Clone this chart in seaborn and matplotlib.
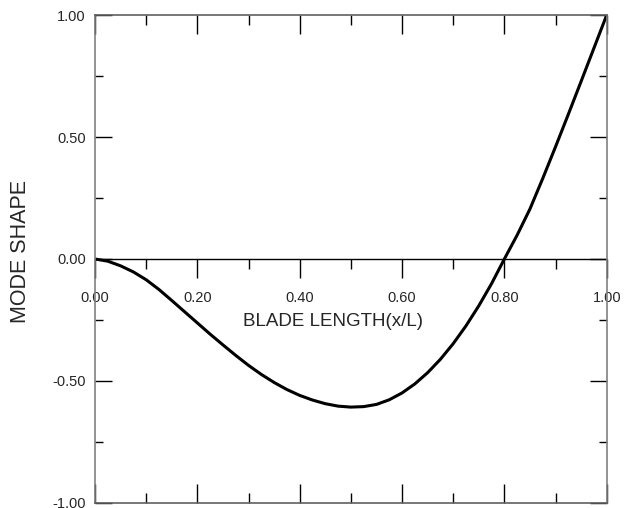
import matplotlib
matplotlib.use("Agg")
import matplotlib.pyplot as plt
import seaborn as sns
import pandas as pd
from matplotlib.ticker import MultipleLocator, FixedLocator, NullFormatter

# Second mode shape along the blade span
blade_pos = [0.000, 0.025, 0.050, 0.075, 0.100, 0.125, 0.150, 0.175, 0.200, 0.225,
             0.250, 0.275, 0.300, 0.325, 0.350, 0.375, 0.400, 0.425, 0.450, 0.475,
             0.500, 0.525, 0.550, 0.575, 0.600, 0.625, 0.650, 0.675, 0.700, 0.725,
             0.750, 0.775, 0.800, 0.825, 0.850, 0.875, 0.900, 0.925, 0.950, 0.975,
             1.000]
mode_shape = [0.000, -0.009, -0.028, -0.053, -0.085, -0.125, -0.170, -0.216, -0.262, -0.308,
              -0.352, -0.395, -0.436, -0.473, -0.506, -0.535, -0.559, -0.578, -0.593, -0.603,
              -0.607, -0.605, -0.596, -0.577, -0.549, -0.512, -0.466, -0.411, -0.347, -0.274,
              -0.192, -0.101, 0.000, 0.098, 0.205, 0.330, 0.460, 0.593, 0.728, 0.864,
              1.000]

x_ticks = [0.0, 0.2, 0.4, 0.6, 0.8, 1.0]
x_tick_labels = ["0.00", "0.20", "0.40", "0.60", "0.80", "1.00"]
y_ticks = [-1.0, -0.5, 0.0, 0.5, 1.0]
y_tick_labels = ["-1.00", "-0.50", "0.00", "0.50", "1.00"]

sns.set_style("white")
plt.rcParams["font.family"] = ["Liberation Sans", "DejaVu Sans"]

df = pd.DataFrame({"x": blade_pos, "y": mode_shape})

fig = plt.figure(figsize=(6.25, 5.08), dpi=100)
ax = fig.add_axes([95 / 625, 5 / 508, 511.7 / 625, 488 / 508])

sns.lineplot(data=df, x="x", y="y", ax=ax, color="black", linewidth=2.2)

ax.set_xlim(0, 1)
ax.set_ylim(-1, 1)
ax.axhline(0, color="black", linewidth=1.0, zorder=1)

for side in ["left", "right", "top", "bottom"]:
    ax.spines[side].set_visible(True)
    ax.spines[side].set_linewidth(1.2)
ax.spines["left"].set_color("#808080")
ax.spines["right"].set_color("#808080")
ax.spines["top"].set_color("#606060")
ax.spines["bottom"].set_color("#606060")

# frame ticks (inward, no labels on x)
ax.xaxis.set_major_locator(FixedLocator(x_ticks))
ax.xaxis.set_minor_locator(MultipleLocator(0.1))
ax.xaxis.set_major_formatter(NullFormatter())
ax.tick_params(axis="x", which="both", direction="in", top=True, bottom=True,
               color="black", width=1.0)
ax.tick_params(axis="x", which="major", length=13.7)
ax.tick_params(axis="x", which="minor", length=7.0)

ax.yaxis.set_major_locator(FixedLocator(y_ticks))
ax.set_yticklabels(y_tick_labels)
ax.yaxis.set_minor_locator(MultipleLocator(0.25))
ax.tick_params(axis="y", which="both", direction="in", left=True, right=True,
               color="black", width=1.0, labelsize=10.5, pad=6.5)
ax.tick_params(axis="y", which="major", length=12.2)
ax.tick_params(axis="y", which="minor", length=6.0)

# x axis drawn along the zero line with labels below it
zx = ax.secondary_xaxis(0.5)
zx.set_alignment("bottom")
zx.spines["bottom"].set_visible(False)
zx.spines["top"].set_visible(False)
zx.set_xticks(x_ticks)
zx.set_xticklabels(x_tick_labels)
zx.xaxis.set_minor_locator(MultipleLocator(0.1))
zx.tick_params(axis="x", which="both", direction="out", color="black", width=1.0,
               labelsize=10.5, pad=9, bottom=True, top=False)
zx.tick_params(axis="x", which="major", length=13.7)
zx.tick_params(axis="x", which="minor", length=7.0)

ax.set_xlabel("")
ax.set_ylabel("")
ax.text(0.465, -0.256, "BLADE LENGTH(x/L)", ha="center", va="center", fontsize=13.5)
fig.text(21 / 625, (508 - 251.5) / 508, "MODE SHAPE", rotation=90, ha="center",
         va="center", fontsize=15.5)

fig.savefig("out.png", dpi=100)
